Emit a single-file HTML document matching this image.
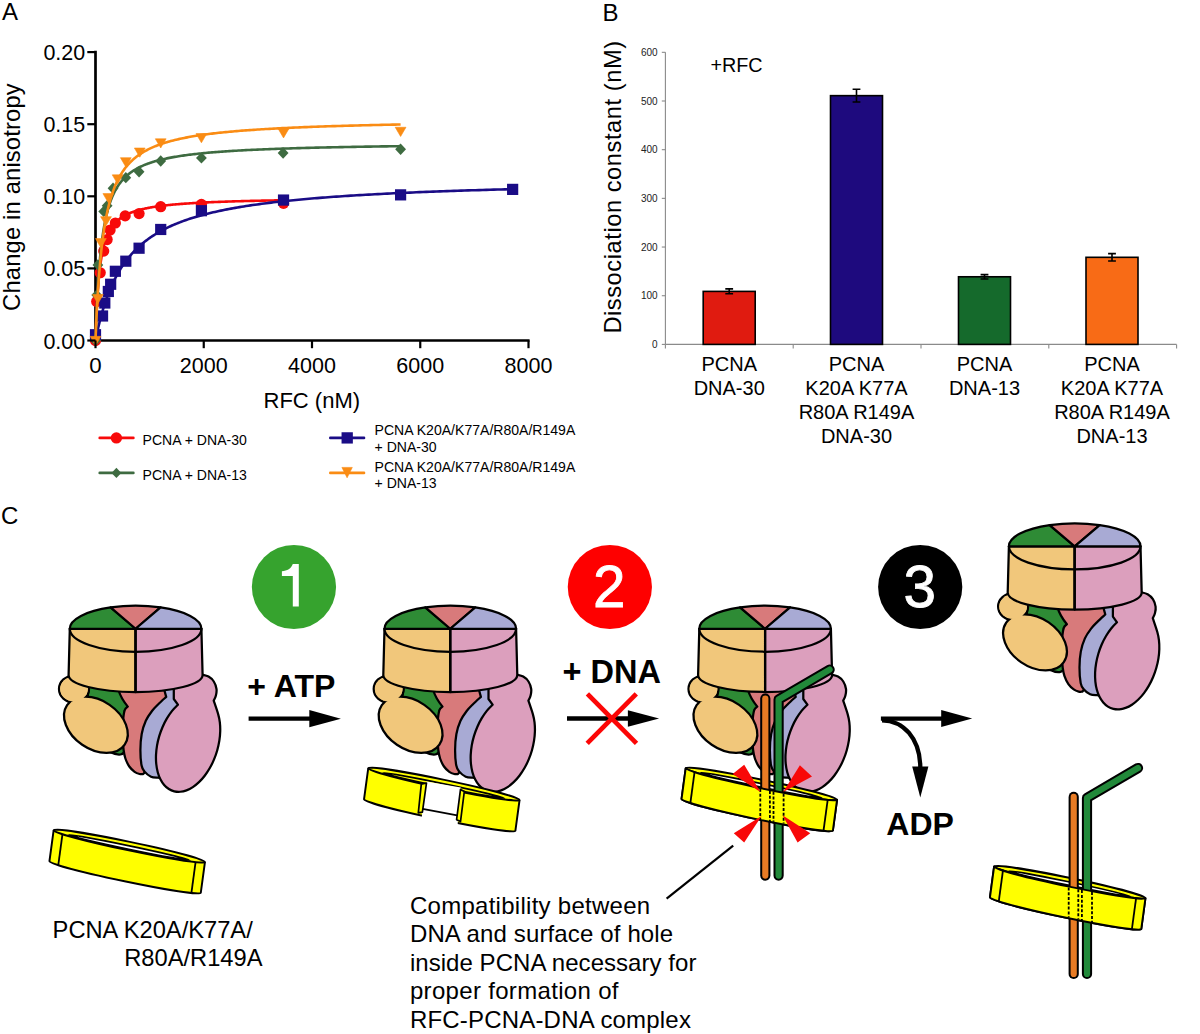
<!DOCTYPE html>
<html><head><meta charset="utf-8"><title>Figure</title>
<style>
html,body{margin:0;padding:0;background:#fff;overflow:hidden;}
svg{display:block;}
text{font-family:"Liberation Sans",sans-serif;}
</style></head>
<body>
<svg width="1200" height="1034" viewBox="0 0 1200 1034">
<defs>
<g id="rfc" stroke="#000" stroke-width="2.25" stroke-linejoin="round">
<path fill="#2e8b35" d="M89,686 L121,686 L128,706.5 L124.8,710.5 L125,749.5 C124.6,752.2 123.2,754 120.5,754.5 C117.5,754.9 114,754 110,752 L87.6,697 Z"/>
<ellipse fill="#f1c77b" cx="74" cy="689" rx="15" ry="13.5"/>
<path fill="#d87a7b" d="M118.5,690 L168,690 L168,700 L150,760 L146,771 L143.2,774.1 C142.60,774.08 141.03,774.38 139.60,774.00 C138.17,773.62 136.32,773.05 134.60,771.80 C132.88,770.55 130.83,768.72 129.30,766.50 C127.77,764.28 126.35,761.25 125.40,758.50 C124.45,755.75 124.03,753.42 123.60,750.00 C123.17,746.58 122.90,742.67 122.80,738.00 C122.70,733.33 122.70,726.58 123.00,722.00 C123.30,717.42 123.80,713.07 124.60,710.50 C125.40,707.93 127.27,707.25 127.80,706.60 C124,702 120.5,697 118.5,690 Z"/>
<path fill="#a8aad4" d="M164.3,688 L178,688 L182,705 L176,745 L166,779 L158,777.6 C156.83,777.45 153.23,777.70 151.00,776.70 C148.77,775.70 146.17,773.47 144.60,771.60 C143.03,769.73 142.30,769.10 141.60,765.50 C140.90,761.90 140.38,755.25 140.40,750.00 C140.42,744.75 140.80,738.87 141.70,734.00 C142.60,729.13 144.08,724.63 145.80,720.80 C147.52,716.97 149.88,713.80 152.00,711.00 C154.12,708.20 156.13,706.35 158.50,704.00 C160.87,701.65 164.92,698.08 166.20,696.90 L164.3,690 Z"/>
<path fill="#dc9fbd" stroke="none" d="M173.8,670 L173.8,699 L177.9,704.7 C176.91,705.66 173.91,708.58 172.09,710.88 C170.26,713.19 168.51,715.75 166.93,718.44 C165.34,721.12 163.87,724.02 162.59,726.97 C161.31,729.92 160.17,733.05 159.24,736.16 C158.31,739.27 157.56,742.49 157.02,745.64 C156.48,748.79 156.14,751.98 156.01,755.05 C155.89,758.11 155.97,761.15 156.26,764.01 C156.54,766.87 157.05,769.64 157.74,772.18 C158.43,774.72 159.34,777.12 160.40,779.24 C161.47,781.37 162.74,783.30 164.15,784.92 C165.55,786.55 167.14,787.93 168.83,788.99 C170.51,790.06 172.36,790.84 174.26,791.30 C176.16,791.76 178.19,791.91 180.23,791.75 C182.27,791.59 184.40,791.10 186.50,790.33 C188.60,789.55 190.76,788.45 192.84,787.09 C194.92,785.73 197.01,784.05 198.99,782.16 C200.97,780.27 202.92,778.08 204.72,775.73 C206.52,773.38 208.25,770.77 209.80,768.05 C211.36,765.34 212.80,762.41 214.04,759.43 C215.28,756.45 216.38,753.31 217.26,750.19 C218.15,747.07 218.86,743.84 219.35,740.70 C219.84,737.55 220.14,734.37 220.22,731.32 C220.30,728.28 220.17,725.26 219.84,722.43 C219.51,719.61 219.25,718.01 218.22,714.37 C217.20,710.73 214.45,702.89 213.70,700.60 C214.07,699.75 215.43,697.43 215.90,695.50 C216.37,693.57 216.85,691.33 216.50,689.00 C216.15,686.67 215.13,683.57 213.80,681.50 C212.47,679.43 210.50,677.75 208.50,676.60 C206.50,675.45 202.92,674.93 201.80,674.60 L190,668 Z"/>
<path fill="none" d="M173.8,688 L173.8,699 L177.9,704.7 C176.91,705.66 173.91,708.58 172.09,710.88 C170.26,713.19 168.51,715.75 166.93,718.44 C165.34,721.12 163.87,724.02 162.59,726.97 C161.31,729.92 160.17,733.05 159.24,736.16 C158.31,739.27 157.56,742.49 157.02,745.64 C156.48,748.79 156.14,751.98 156.01,755.05 C155.89,758.11 155.97,761.15 156.26,764.01 C156.54,766.87 157.05,769.64 157.74,772.18 C158.43,774.72 159.34,777.12 160.40,779.24 C161.47,781.37 162.74,783.30 164.15,784.92 C165.55,786.55 167.14,787.93 168.83,788.99 C170.51,790.06 172.36,790.84 174.26,791.30 C176.16,791.76 178.19,791.91 180.23,791.75 C182.27,791.59 184.40,791.10 186.50,790.33 C188.60,789.55 190.76,788.45 192.84,787.09 C194.92,785.73 197.01,784.05 198.99,782.16 C200.97,780.27 202.92,778.08 204.72,775.73 C206.52,773.38 208.25,770.77 209.80,768.05 C211.36,765.34 212.80,762.41 214.04,759.43 C215.28,756.45 216.38,753.31 217.26,750.19 C218.15,747.07 218.86,743.84 219.35,740.70 C219.84,737.55 220.14,734.37 220.22,731.32 C220.30,728.28 220.17,725.26 219.84,722.43 C219.51,719.61 219.25,718.01 218.22,714.37 C217.20,710.73 214.45,702.89 213.70,700.60 C214.07,699.75 215.43,697.43 215.90,695.50 C216.37,693.57 216.85,691.33 216.50,689.00 C216.15,686.67 215.13,683.57 213.80,681.50 C212.47,679.43 210.50,677.75 208.50,676.60 C206.50,675.45 202.92,674.93 201.80,674.60"/>
<ellipse fill="#f1c77b" cx="95.9" cy="724.8" rx="34.9" ry="24.2" transform="rotate(34.4 95.9 724.8)"/>
<ellipse fill="#f1c77b" stroke="none" cx="74" cy="689" rx="13.8" ry="12.3"/>
<path fill="#f1c77b" d="M135.6,628.75 L69.8,628.75 L68.6,675 A67,17 0 0 0 135.6,692 Z"/>
<path fill="#dc9fbd" d="M135.6,628.75 L201.39999999999998,628.75 L202.6,675 A67,17 0 0 1 135.6,692 Z"/>
<path fill="#f1c77b" d="M135.6,628.75 L69.8,628.75 A65.8,23 0 0 0 135.6,651.75 Z"/>
<path fill="#dc9fbd" d="M135.6,628.75 L201.39999999999998,628.75 A65.8,23 0 0 1 135.6,651.75 Z"/>
<path fill="#2e8b35" d="M135.6,628.75 L69.8,628.75 A65.8,23 0 0 1 110.60,607.47 Z"/>
<path fill="#d87a7b" d="M135.6,628.75 L110.60,607.47 A65.8,23 0 0 1 160.60,607.47 Z"/>
<path fill="#a8aad4" d="M135.6,628.75 L160.60,607.47 A65.8,23 0 0 1 201.39999999999998,628.75 Z"/>
<path fill="none" d="M135.6,628.75 V692"/>
</g>
</defs>
<rect width="1200" height="1034" fill="#fff"/>
<g id="panelA">
<line x1="95.5" y1="50.8" x2="95.5" y2="341.8" stroke="#000" stroke-width="2.7"/>
<line x1="94.2" y1="340.5" x2="529.6" y2="340.5" stroke="#000" stroke-width="2.7"/>
<path d="M95.50,340.50 L95.50,340.46 L95.51,340.33 L95.51,340.10 L95.52,339.74 L95.54,339.26 L95.56,338.66 L95.58,337.93 L95.61,337.08 L95.64,336.10 L95.67,334.99 L95.71,333.77 L95.76,332.43 L95.81,330.97 L95.86,329.42 L95.92,327.76 L95.99,326.02 L96.06,324.18 L96.13,322.28 L96.21,320.30 L96.29,318.26 L96.38,316.17 L96.48,314.03 L96.58,311.85 L96.69,309.64 L96.80,307.41 L96.91,305.16 L97.04,302.91 L97.17,300.64 L97.30,298.39 L97.44,296.13 L97.58,293.89 L97.73,291.67 L97.89,289.46 L98.05,287.28 L98.22,285.13 L98.39,283.01 L98.57,280.92 L98.76,278.87 L98.95,276.85 L99.15,274.87 L99.35,272.94 L99.56,271.04 L99.78,269.18 L100.00,267.37 L100.23,265.60 L100.46,263.87 L100.70,262.18 L100.95,260.54 L101.20,258.94 L101.46,257.38 L101.73,255.86 L102.00,254.38 L102.28,252.95 L102.56,251.55 L102.85,250.19 L103.15,248.87 L103.46,247.59 L103.77,246.34 L104.08,245.13 L104.41,243.96 L104.74,242.82 L105.07,241.71 L105.42,240.63 L105.76,239.59 L106.12,238.57 L106.48,237.59 L106.85,236.63 L107.23,235.71 L107.61,234.81 L108.00,233.93 L108.40,233.08 L108.80,232.26 L109.21,231.46 L109.63,230.68 L110.05,229.92 L110.48,229.19 L110.92,228.48 L111.36,227.79 L111.81,227.12 L112.27,226.46 L112.74,225.83 L113.21,225.21 L113.69,224.61 L114.17,224.03 L114.66,223.46 L115.16,222.91 L115.67,222.38 L116.18,221.86 L116.70,221.35 L117.23,220.86 L117.77,220.38 L118.31,219.91 L118.86,219.46 L119.41,219.02 L119.98,218.59 L120.55,218.17 L121.12,217.76 L121.71,217.36 L122.30,216.98 L122.90,216.60 L123.51,216.23 L124.12,215.88 L124.74,215.53 L125.37,215.19 L126.01,214.86 L126.65,214.53 L127.30,214.22 L127.96,213.91 L128.62,213.61 L129.29,213.32 L129.97,213.03 L130.66,212.75 L131.35,212.48 L132.06,212.22 L132.76,211.96 L133.48,211.70 L134.21,211.46 L134.94,211.22 L135.68,210.98 L136.42,210.75 L137.18,210.52 L137.94,210.30 L138.71,210.09 L139.48,209.88 L140.27,209.67 L141.06,209.47 L141.86,209.28 L142.67,209.09 L143.48,208.90 L144.30,208.71 L145.13,208.53 L145.97,208.36 L146.81,208.19 L147.67,208.02 L148.53,207.85 L149.40,207.69 L150.27,207.53 L151.15,207.38 L152.05,207.23 L152.94,207.08 L153.85,206.93 L154.76,206.79 L155.69,206.65 L156.62,206.51 L157.55,206.38 L158.50,206.25 L159.45,206.12 L160.41,205.99 L161.38,205.87 L162.36,205.75 L163.34,205.63 L164.34,205.51 L165.34,205.40 L166.34,205.29 L167.36,205.18 L168.38,205.07 L169.42,204.96 L170.46,204.86 L171.50,204.75 L172.56,204.65 L173.62,204.56 L174.69,204.46 L175.77,204.36 L176.86,204.27 L177.96,204.18 L179.06,204.09 L180.17,204.00 L181.29,203.91 L182.42,203.83 L183.55,203.75 L184.70,203.66 L185.85,203.58 L187.01,203.50 L188.18,203.43 L189.35,203.35 L190.54,203.27 L191.73,203.20 L192.93,203.13 L194.14,203.05 L195.35,202.98 L196.58,202.91 L197.81,202.85 L199.05,202.78 L200.30,202.71 L201.56,202.65 L202.82,202.59 L204.10,202.52 L205.38,202.46 L206.67,202.40 L207.97,202.34 L209.27,202.28 L210.59,202.22 L211.91,202.17 L213.24,202.11 L214.58,202.06 L215.93,202.00 L217.28,201.95 L218.65,201.89 L220.02,201.84 L221.40,201.79 L222.79,201.74 L224.19,201.69 L225.59,201.64 L227.01,201.59 L228.43,201.55 L229.86,201.50 L231.30,201.45 L232.75,201.41 L234.20,201.36 L235.67,201.32 L237.14,201.28 L238.62,201.23 L240.11,201.19 L241.61,201.15 L243.11,201.11 L244.63,201.07 L246.15,201.03 L247.68,200.99 L249.22,200.95 L250.77,200.91 L252.33,200.88 L253.89,200.84 L255.47,200.80 L257.05,200.77 L258.64,200.73 L260.24,200.70 L261.85,200.66 L263.47,200.63 L265.09,200.59 L266.72,200.56 L268.37,200.53 L270.02,200.49 L271.68,200.46 L273.34,200.43 L275.02,200.40 L276.70,200.37 L278.40,200.34 L280.10,200.31 L281.81,200.28 L283.53,200.25" fill="none" stroke="#f80a0a" stroke-width="2.6" stroke-linejoin="round"/>
<circle cx="95.50" cy="340.50" r="5.6" fill="#f80a0a"/>
<circle cx="96.69" cy="301.57" r="5.6" fill="#f80a0a"/>
<circle cx="100.21" cy="272.73" r="5.6" fill="#f80a0a"/>
<circle cx="103.73" cy="251.10" r="5.6" fill="#f80a0a"/>
<circle cx="107.14" cy="239.56" r="5.6" fill="#f80a0a"/>
<circle cx="110.11" cy="230.04" r="5.6" fill="#f80a0a"/>
<circle cx="115.36" cy="222.98" r="5.6" fill="#f80a0a"/>
<circle cx="125.16" cy="215.91" r="5.6" fill="#f80a0a"/>
<circle cx="139.07" cy="213.60" r="5.6" fill="#f80a0a"/>
<circle cx="160.72" cy="206.68" r="5.6" fill="#f80a0a"/>
<circle cx="201.42" cy="204.38" r="5.6" fill="#f80a0a"/>
<circle cx="283.53" cy="203.37" r="5.6" fill="#f80a0a"/>
<path d="M95.50,340.50 L95.50,340.49 L95.51,340.44 L95.53,340.36 L95.55,340.24 L95.58,340.08 L95.62,339.87 L95.67,339.61 L95.73,339.31 L95.80,338.96 L95.88,338.57 L95.97,338.12 L96.07,337.63 L96.18,337.09 L96.30,336.50 L96.44,335.86 L96.58,335.18 L96.73,334.44 L96.90,333.67 L97.07,332.84 L97.26,331.98 L97.46,331.07 L97.67,330.12 L97.90,329.12 L98.13,328.09 L98.38,327.02 L98.64,325.92 L98.91,324.78 L99.19,323.60 L99.49,322.40 L99.80,321.16 L100.12,319.90 L100.46,318.61 L100.80,317.29 L101.16,315.96 L101.54,314.60 L101.92,313.22 L102.32,311.82 L102.73,310.41 L103.16,308.98 L103.60,307.54 L104.05,306.09 L104.52,304.63 L104.99,303.16 L105.49,301.68 L105.99,300.20 L106.51,298.72 L107.05,297.23 L107.59,295.74 L108.15,294.25 L108.73,292.77 L109.32,291.28 L109.92,289.80 L110.54,288.33 L111.17,286.86 L111.82,285.40 L112.48,283.94 L113.15,282.50 L113.84,281.06 L114.54,279.63 L115.26,278.22 L115.99,276.81 L116.74,275.42 L117.50,274.04 L118.27,272.67 L119.06,271.32 L119.87,269.98 L120.69,268.65 L121.52,267.34 L122.37,266.04 L123.24,264.76 L124.11,263.49 L125.01,262.24 L125.92,261.01 L126.84,259.79 L127.78,258.59 L128.74,257.40 L129.71,256.23 L130.69,255.07 L131.69,253.94 L132.71,252.81 L133.74,251.71 L134.78,250.62 L135.85,249.55 L136.92,248.49 L138.01,247.45 L139.12,246.42 L140.25,245.41 L141.39,244.42 L142.54,243.44 L143.71,242.48 L144.90,241.53 L146.10,240.60 L147.32,239.68 L148.55,238.78 L149.80,237.89 L151.07,237.02 L152.35,236.16 L153.65,235.32 L154.96,234.49 L156.29,233.67 L157.63,232.87 L158.99,232.08 L160.37,231.31 L161.77,230.54 L163.18,229.79 L164.60,229.06 L166.04,228.33 L167.50,227.62 L168.98,226.92 L170.47,226.23 L171.98,225.55 L173.50,224.89 L175.04,224.23 L176.60,223.59 L178.17,222.96 L179.76,222.34 L181.37,221.73 L182.99,221.13 L184.63,220.54 L186.29,219.96 L187.96,219.39 L189.65,218.82 L191.35,218.27 L193.08,217.73 L194.82,217.20 L196.57,216.68 L198.35,216.16 L200.14,215.66 L201.94,215.16 L203.77,214.67 L205.61,214.19 L207.46,213.71 L209.34,213.25 L211.23,212.79 L213.14,212.34 L215.07,211.90 L217.01,211.47 L218.97,211.04 L220.94,210.62 L222.94,210.20 L224.95,209.80 L226.98,209.40 L229.02,209.00 L231.09,208.62 L233.17,208.23 L235.26,207.86 L237.38,207.49 L239.51,207.13 L241.66,206.77 L243.83,206.42 L246.01,206.07 L248.21,205.73 L250.43,205.40 L252.67,205.07 L254.92,204.75 L257.19,204.43 L259.48,204.11 L261.79,203.80 L264.11,203.50 L266.46,203.20 L268.81,202.91 L271.19,202.62 L273.59,202.33 L276.00,202.05 L278.43,201.77 L280.88,201.50 L283.34,201.23 L285.83,200.97 L288.33,200.71 L290.85,200.45 L293.38,200.20 L295.94,199.95 L298.51,199.70 L301.10,199.46 L303.71,199.22 L306.34,198.99 L308.98,198.76 L311.64,198.53 L314.32,198.31 L317.02,198.08 L319.74,197.87 L322.47,197.65 L325.23,197.44 L328.00,197.23 L330.79,197.03 L333.59,196.82 L336.42,196.62 L339.26,196.43 L342.12,196.23 L345.00,196.04 L347.90,195.85 L350.82,195.67 L353.75,195.49 L356.71,195.30 L359.68,195.13 L362.67,194.95 L365.67,194.78 L368.70,194.61 L371.75,194.44 L374.81,194.27 L377.89,194.11 L380.99,193.95 L384.11,193.79 L387.25,193.63 L390.40,193.47 L393.58,193.32 L396.77,193.17 L399.98,193.02 L403.21,192.87 L406.46,192.73 L409.72,192.59 L413.01,192.44 L416.31,192.31 L419.64,192.17 L422.98,192.03 L426.34,191.90 L429.72,191.77 L433.12,191.63 L436.53,191.51 L439.97,191.38 L443.42,191.25 L446.89,191.13 L450.39,191.01 L453.90,190.88 L457.43,190.77 L460.97,190.65 L464.54,190.53 L468.13,190.42 L471.73,190.30 L475.36,190.19 L479.00,190.08 L482.66,189.97 L486.34,189.86 L490.04,189.76 L493.76,189.65 L497.50,189.55 L501.26,189.44 L505.03,189.34 L508.83,189.24 L512.64,189.14" fill="none" stroke="#1a0c86" stroke-width="2.6" stroke-linejoin="round"/>
<rect x="89.90" y="329.13" width="11.2" height="11.2" fill="#1a0c86"/>
<rect x="96.94" y="310.39" width="11.2" height="11.2" fill="#1a0c86"/>
<rect x="99.21" y="297.41" width="11.2" height="11.2" fill="#1a0c86"/>
<rect x="102.73" y="285.87" width="11.2" height="11.2" fill="#1a0c86"/>
<rect x="105.06" y="278.66" width="11.2" height="11.2" fill="#1a0c86"/>
<rect x="109.76" y="265.68" width="11.2" height="11.2" fill="#1a0c86"/>
<rect x="120.21" y="255.59" width="11.2" height="11.2" fill="#1a0c86"/>
<rect x="133.47" y="242.61" width="11.2" height="11.2" fill="#1a0c86"/>
<rect x="155.12" y="223.87" width="11.2" height="11.2" fill="#1a0c86"/>
<rect x="195.82" y="205.12" width="11.2" height="11.2" fill="#1a0c86"/>
<rect x="277.93" y="194.45" width="11.2" height="11.2" fill="#1a0c86"/>
<rect x="395.00" y="189.26" width="11.2" height="11.2" fill="#1a0c86"/>
<rect x="507.04" y="183.78" width="11.2" height="11.2" fill="#1a0c86"/>
<path d="M95.50,340.50 L95.50,340.45 L95.51,340.25 L95.52,339.89 L95.54,339.35 L95.56,338.62 L95.59,337.71 L95.63,336.60 L95.67,335.31 L95.72,333.82 L95.78,332.15 L95.85,330.30 L95.92,328.29 L96.00,326.10 L96.09,323.77 L96.18,321.29 L96.29,318.68 L96.40,315.96 L96.52,313.12 L96.65,310.19 L96.79,307.18 L96.94,304.10 L97.09,300.96 L97.25,297.77 L97.43,294.54 L97.61,291.30 L97.80,288.04 L97.99,284.77 L98.20,281.51 L98.42,278.26 L98.65,275.03 L98.88,271.83 L99.13,268.66 L99.38,265.53 L99.64,262.44 L99.92,259.40 L100.20,256.41 L100.49,253.48 L100.79,250.60 L101.10,247.79 L101.42,245.03 L101.75,242.34 L102.09,239.71 L102.44,237.14 L102.80,234.64 L103.17,232.20 L103.55,229.83 L103.94,227.52 L104.35,225.28 L104.76,223.09 L105.18,220.97 L105.61,218.91 L106.05,216.91 L106.50,214.97 L106.96,213.08 L107.43,211.25 L107.92,209.48 L108.41,207.75 L108.91,206.08 L109.43,204.47 L109.95,202.89 L110.49,201.37 L111.03,199.90 L111.59,198.46 L112.16,197.08 L112.73,195.73 L113.32,194.43 L113.92,193.16 L114.53,191.93 L115.15,190.75 L115.79,189.59 L116.43,188.47 L117.08,187.39 L117.75,186.34 L118.42,185.32 L119.11,184.33 L119.81,183.36 L120.52,182.43 L121.24,181.53 L121.97,180.65 L122.71,179.80 L123.47,178.97 L124.23,178.17 L125.01,177.38 L125.80,176.63 L126.60,175.89 L127.41,175.17 L128.23,174.48 L129.06,173.80 L129.91,173.15 L130.76,172.51 L131.63,171.89 L132.51,171.28 L133.40,170.70 L134.30,170.12 L135.22,169.57 L136.14,169.03 L137.08,168.50 L138.03,167.99 L138.99,167.49 L139.96,167.00 L140.95,166.53 L141.94,166.07 L142.95,165.62 L143.97,165.18 L145.00,164.76 L146.04,164.34 L147.10,163.94 L148.16,163.54 L149.24,163.16 L150.33,162.78 L151.44,162.41 L152.55,162.06 L153.68,161.71 L154.82,161.37 L155.97,161.04 L157.13,160.71 L158.30,160.40 L159.49,160.09 L160.69,159.79 L161.90,159.49 L163.13,159.20 L164.36,158.92 L165.61,158.65 L166.87,158.38 L168.14,158.12 L169.43,157.86 L170.72,157.61 L172.03,157.36 L173.35,157.12 L174.69,156.89 L176.03,156.66 L177.39,156.44 L178.76,156.22 L180.15,156.00 L181.54,155.79 L182.95,155.59 L184.37,155.38 L185.81,155.19 L187.25,154.99 L188.71,154.80 L190.18,154.62 L191.66,154.44 L193.16,154.26 L194.67,154.09 L196.19,153.92 L197.73,153.75 L199.27,153.58 L200.83,153.42 L202.40,153.27 L203.99,153.11 L205.59,152.96 L207.20,152.81 L208.82,152.67 L210.45,152.52 L212.10,152.38 L213.76,152.25 L215.44,152.11 L217.13,151.98 L218.83,151.85 L220.54,151.72 L222.26,151.60 L224.00,151.48 L225.75,151.36 L227.52,151.24 L229.30,151.12 L231.09,151.01 L232.89,150.89 L234.71,150.78 L236.54,150.68 L238.38,150.57 L240.23,150.47 L242.10,150.36 L243.99,150.26 L245.88,150.16 L247.79,150.07 L249.71,149.97 L251.64,149.88 L253.59,149.79 L255.55,149.69 L257.52,149.61 L259.51,149.52 L261.51,149.43 L263.52,149.35 L265.55,149.26 L267.59,149.18 L269.64,149.10 L271.71,149.02 L273.79,148.94 L275.88,148.87 L277.99,148.79 L280.11,148.72 L282.24,148.64 L284.39,148.57 L286.55,148.50 L288.72,148.43 L290.91,148.36 L293.11,148.29 L295.32,148.23 L297.55,148.16 L299.79,148.10 L302.04,148.03 L304.31,147.97 L306.59,147.91 L308.89,147.85 L311.19,147.79 L313.52,147.73 L315.85,147.67 L318.20,147.61 L320.56,147.56 L322.94,147.50 L325.33,147.45 L327.73,147.39 L330.15,147.34 L332.58,147.29 L335.02,147.23 L337.48,147.18 L339.95,147.13 L342.44,147.08 L344.94,147.03 L347.45,146.99 L349.97,146.94 L352.51,146.89 L355.07,146.85 L357.64,146.80 L360.22,146.76 L362.81,146.71 L365.42,146.67 L368.04,146.62 L370.68,146.58 L373.33,146.54 L376.00,146.50 L378.67,146.46 L381.37,146.42 L384.07,146.38 L386.79,146.34 L389.53,146.30 L392.28,146.26 L395.04,146.22 L397.81,146.19 L400.60,146.15" fill="none" stroke="#3e6b41" stroke-width="2.6" stroke-linejoin="round"/>
<polygon points="95.50,334.83 100.90,340.50 95.50,346.17 90.10,340.50" fill="#3e6b41"/>
<polygon points="96.69,289.41 102.09,295.08 96.69,300.75 91.29,295.08" fill="#3e6b41"/>
<polygon points="97.88,259.27 103.28,264.94 97.88,270.61 92.48,264.94" fill="#3e6b41"/>
<polygon points="103.73,205.77 109.13,211.44 103.73,217.11 98.33,211.44" fill="#3e6b41"/>
<polygon points="107.14,200.00 112.54,205.67 107.14,211.34 101.74,205.67" fill="#3e6b41"/>
<polygon points="113.04,182.55 118.44,188.22 113.04,193.89 107.64,188.22" fill="#3e6b41"/>
<polygon points="125.81,172.03 131.21,177.70 125.81,183.37 120.41,177.70" fill="#3e6b41"/>
<polygon points="139.07,166.12 144.47,171.79 139.07,177.46 133.67,171.79" fill="#3e6b41"/>
<polygon points="160.72,155.30 166.12,160.97 160.72,166.64 155.32,160.97" fill="#3e6b41"/>
<polygon points="201.42,152.27 206.82,157.94 201.42,163.61 196.02,157.94" fill="#3e6b41"/>
<polygon points="283.10,147.37 288.50,153.04 283.10,158.71 277.70,153.04" fill="#3e6b41"/>
<polygon points="400.60,143.62 406.00,149.29 400.60,154.96 395.20,149.29" fill="#3e6b41"/>
<path d="M95.50,340.50 L95.50,340.45 L95.51,340.29 L95.52,339.99 L95.54,339.53 L95.56,338.93 L95.59,338.16 L95.63,337.23 L95.67,336.13 L95.72,334.87 L95.78,333.45 L95.85,331.87 L95.92,330.13 L96.00,328.24 L96.09,326.21 L96.18,324.04 L96.29,321.74 L96.40,319.32 L96.52,316.79 L96.65,314.15 L96.79,311.41 L96.94,308.59 L97.09,305.69 L97.25,302.72 L97.43,299.70 L97.61,296.62 L97.80,293.50 L97.99,290.35 L98.20,287.18 L98.42,283.99 L98.65,280.79 L98.88,277.59 L99.13,274.39 L99.38,271.20 L99.64,268.04 L99.92,264.89 L100.20,261.77 L100.49,258.68 L100.79,255.62 L101.10,252.61 L101.42,249.63 L101.75,246.70 L102.09,243.82 L102.44,240.99 L102.80,238.20 L103.17,235.47 L103.55,232.79 L103.94,230.16 L104.35,227.59 L104.76,225.08 L105.18,222.62 L105.61,220.21 L106.05,217.86 L106.50,215.56 L106.96,213.32 L107.43,211.13 L107.92,209.00 L108.41,206.92 L108.91,204.89 L109.43,202.92 L109.95,200.99 L110.49,199.11 L111.03,197.28 L111.59,195.50 L112.16,193.77 L112.73,192.08 L113.32,190.44 L113.92,188.84 L114.53,187.28 L115.15,185.76 L115.79,184.29 L116.43,182.85 L117.08,181.45 L117.75,180.09 L118.42,178.77 L119.11,177.48 L119.81,176.22 L120.52,175.00 L121.24,173.81 L121.97,172.66 L122.71,171.53 L123.47,170.43 L124.23,169.37 L125.01,168.33 L125.80,167.32 L126.60,166.33 L127.41,165.37 L128.23,164.44 L129.06,163.53 L129.91,162.64 L130.76,161.78 L131.63,160.93 L132.51,160.11 L133.40,159.31 L134.30,158.54 L135.22,157.78 L136.14,157.04 L137.08,156.31 L138.03,155.61 L138.99,154.92 L139.96,154.25 L140.95,153.60 L141.94,152.97 L142.95,152.34 L143.97,151.74 L145.00,151.15 L146.04,150.57 L147.10,150.00 L148.16,149.45 L149.24,148.92 L150.33,148.39 L151.44,147.88 L152.55,147.38 L153.68,146.89 L154.82,146.41 L155.97,145.95 L157.13,145.49 L158.30,145.05 L159.49,144.61 L160.69,144.18 L161.90,143.77 L163.13,143.36 L164.36,142.96 L165.61,142.57 L166.87,142.19 L168.14,141.82 L169.43,141.46 L170.72,141.10 L172.03,140.75 L173.35,140.41 L174.69,140.08 L176.03,139.75 L177.39,139.43 L178.76,139.12 L180.15,138.81 L181.54,138.51 L182.95,138.21 L184.37,137.92 L185.81,137.64 L187.25,137.37 L188.71,137.09 L190.18,136.83 L191.66,136.57 L193.16,136.31 L194.67,136.06 L196.19,135.82 L197.73,135.58 L199.27,135.34 L200.83,135.11 L202.40,134.88 L203.99,134.66 L205.59,134.44 L207.20,134.22 L208.82,134.01 L210.45,133.81 L212.10,133.61 L213.76,133.41 L215.44,133.21 L217.13,133.02 L218.83,132.83 L220.54,132.65 L222.26,132.47 L224.00,132.29 L225.75,132.11 L227.52,131.94 L229.30,131.77 L231.09,131.61 L232.89,131.44 L234.71,131.28 L236.54,131.13 L238.38,130.97 L240.23,130.82 L242.10,130.67 L243.99,130.53 L245.88,130.38 L247.79,130.24 L249.71,130.10 L251.64,129.96 L253.59,129.83 L255.55,129.70 L257.52,129.57 L259.51,129.44 L261.51,129.31 L263.52,129.19 L265.55,129.06 L267.59,128.94 L269.64,128.83 L271.71,128.71 L273.79,128.60 L275.88,128.48 L277.99,128.37 L280.11,128.26 L282.24,128.16 L284.39,128.05 L286.55,127.95 L288.72,127.84 L290.91,127.74 L293.11,127.64 L295.32,127.55 L297.55,127.45 L299.79,127.35 L302.04,127.26 L304.31,127.17 L306.59,127.08 L308.89,126.99 L311.19,126.90 L313.52,126.81 L315.85,126.73 L318.20,126.64 L320.56,126.56 L322.94,126.48 L325.33,126.40 L327.73,126.32 L330.15,126.24 L332.58,126.16 L335.02,126.09 L337.48,126.01 L339.95,125.94 L342.44,125.87 L344.94,125.79 L347.45,125.72 L349.97,125.65 L352.51,125.58 L355.07,125.51 L357.64,125.45 L360.22,125.38 L362.81,125.32 L365.42,125.25 L368.04,125.19 L370.68,125.13 L373.33,125.06 L376.00,125.00 L378.67,124.94 L381.37,124.88 L384.07,124.82 L386.79,124.77 L389.53,124.71 L392.28,124.65 L395.04,124.60 L397.81,124.54 L400.60,124.49" fill="none" stroke="#fa8c14" stroke-width="2.6" stroke-linejoin="round"/>
<polygon points="90.10,336.36 100.90,336.36 95.50,345.56" fill="#fa8c14" stroke="#fa8c14" stroke-width="0.6" stroke-linejoin="round"/>
<polygon points="92.48,294.54 103.28,294.54 97.88,303.74" fill="#fa8c14" stroke="#fa8c14" stroke-width="0.6" stroke-linejoin="round"/>
<polygon points="95.51,238.59 106.31,238.59 100.91,247.79" fill="#fa8c14" stroke="#fa8c14" stroke-width="0.6" stroke-linejoin="round"/>
<polygon points="100.60,216.67 111.40,216.67 106.00,225.87" fill="#fa8c14" stroke="#fa8c14" stroke-width="0.6" stroke-linejoin="round"/>
<polygon points="102.93,193.60 113.73,193.60 108.33,202.80" fill="#fa8c14" stroke="#fa8c14" stroke-width="0.6" stroke-linejoin="round"/>
<polygon points="112.24,174.86 123.04,174.86 117.64,184.06" fill="#fa8c14" stroke="#fa8c14" stroke-width="0.6" stroke-linejoin="round"/>
<polygon points="120.41,157.70 131.21,157.70 125.81,166.90" fill="#fa8c14" stroke="#fa8c14" stroke-width="0.6" stroke-linejoin="round"/>
<polygon points="134.37,148.03 145.17,148.03 139.77,157.23" fill="#fa8c14" stroke="#fa8c14" stroke-width="0.6" stroke-linejoin="round"/>
<polygon points="155.32,138.81 166.12,138.81 160.72,148.01" fill="#fa8c14" stroke="#fa8c14" stroke-width="0.6" stroke-linejoin="round"/>
<polygon points="196.02,133.61 206.82,133.61 201.42,142.81" fill="#fa8c14" stroke="#fa8c14" stroke-width="0.6" stroke-linejoin="round"/>
<polygon points="278.13,128.71 288.93,128.71 283.53,137.91" fill="#fa8c14" stroke="#fa8c14" stroke-width="0.6" stroke-linejoin="round"/>
<polygon points="395.20,127.27 406.00,127.27 400.60,136.47" fill="#fa8c14" stroke="#fa8c14" stroke-width="0.6" stroke-linejoin="round"/>
<line x1="87.3" y1="340.50" x2="95.5" y2="340.50" stroke="#000" stroke-width="2.2"/>
<text x="85.2" y="348.50" text-anchor="end" font-size="22.3" textLength="41.8" lengthAdjust="spacingAndGlyphs">0.00</text>
<line x1="87.3" y1="268.40" x2="95.5" y2="268.40" stroke="#000" stroke-width="2.2"/>
<text x="85.2" y="276.40" text-anchor="end" font-size="22.3" textLength="41.8" lengthAdjust="spacingAndGlyphs">0.05</text>
<line x1="87.3" y1="196.30" x2="95.5" y2="196.30" stroke="#000" stroke-width="2.2"/>
<text x="85.2" y="204.30" text-anchor="end" font-size="22.3" textLength="41.8" lengthAdjust="spacingAndGlyphs">0.10</text>
<line x1="87.3" y1="124.20" x2="95.5" y2="124.20" stroke="#000" stroke-width="2.2"/>
<text x="85.2" y="132.20" text-anchor="end" font-size="22.3" textLength="41.8" lengthAdjust="spacingAndGlyphs">0.15</text>
<line x1="87.3" y1="52.10" x2="95.5" y2="52.10" stroke="#000" stroke-width="2.2"/>
<text x="85.2" y="60.10" text-anchor="end" font-size="22.3" textLength="41.8" lengthAdjust="spacingAndGlyphs">0.20</text>
<line x1="95.50" y1="340.5" x2="95.50" y2="348.2" stroke="#000" stroke-width="2.2"/>
<text x="95.50" y="372.9" text-anchor="middle" font-size="22.3">0</text>
<line x1="203.75" y1="340.5" x2="203.75" y2="348.2" stroke="#000" stroke-width="2.2"/>
<text x="203.75" y="372.9" text-anchor="middle" font-size="22.3" textLength="47.8" lengthAdjust="spacingAndGlyphs">2000</text>
<line x1="312.00" y1="340.5" x2="312.00" y2="348.2" stroke="#000" stroke-width="2.2"/>
<text x="312.00" y="372.9" text-anchor="middle" font-size="22.3" textLength="47.8" lengthAdjust="spacingAndGlyphs">4000</text>
<line x1="420.25" y1="340.5" x2="420.25" y2="348.2" stroke="#000" stroke-width="2.2"/>
<text x="420.25" y="372.9" text-anchor="middle" font-size="22.3" textLength="47.8" lengthAdjust="spacingAndGlyphs">6000</text>
<line x1="528.50" y1="340.5" x2="528.50" y2="348.2" stroke="#000" stroke-width="2.2"/>
<text x="528.50" y="372.9" text-anchor="middle" font-size="22.3" textLength="47.8" lengthAdjust="spacingAndGlyphs">8000</text>
<text x="263.5" y="408" font-size="22">RFC (nM)</text>
<text transform="translate(20.4,197.1) rotate(-90)" text-anchor="middle" font-size="23.7" textLength="227.6" lengthAdjust="spacing">Change in anisotropy</text>
<text x="2" y="20.3" font-size="24">A</text>
<line x1="99.7" y1="437.9" x2="133.4" y2="437.9" stroke="#f80a0a" stroke-width="2.6" stroke-linecap="round"/>
<circle cx="116.40" cy="437.90" r="5.66" fill="#f80a0a"/>
<text x="142.6" y="444.9" font-size="14.05">PCNA + DNA-30</text>
<line x1="99.7" y1="472.9" x2="133.4" y2="472.9" stroke="#3e6b41" stroke-width="2.6" stroke-linecap="round"/>
<polygon points="116.40,467.75 121.30,472.90 116.40,478.04 111.50,472.90" fill="#3e6b41"/>
<text x="142.6" y="480.1" font-size="14.05">PCNA + DNA-13</text>
<line x1="330.3" y1="437.9" x2="364" y2="437.9" stroke="#1a0c86" stroke-width="2.6" stroke-linecap="round"/>
<rect x="341.55" y="432.25" width="11.3" height="11.3" fill="#1a0c86"/>
<text x="374.6" y="434.8" font-size="14.05">PCNA K20A/K77A/R80A/R149A</text>
<text x="374.6" y="451.9" font-size="14.05">+ DNA-30</text>
<line x1="330.3" y1="472.9" x2="364" y2="472.9" stroke="#fa8c14" stroke-width="2.6" stroke-linecap="round"/>
<polygon points="341.90,467.42 352.30,467.42 347.10,477.82" fill="#fa8c14" stroke="#fa8c14" stroke-width="0.6" stroke-linejoin="round"/>
<text x="374.6" y="471.7" font-size="14.05">PCNA K20A/K77A/R80A/R149A</text>
<text x="374.6" y="487.8" font-size="14.05">+ DNA-13</text>
</g>
<g id="panelB">
<text x="602.5" y="20.5" font-size="24">B</text>
<line x1="665.4" y1="52.3" x2="665.4" y2="344.4" stroke="#8a8a8a" stroke-width="1.1"/>
<line x1="661.8" y1="344.40" x2="665.4" y2="344.40" stroke="#8a8a8a" stroke-width="1.1"/>
<text x="657.6" y="348.00" text-anchor="end" font-size="10" fill="#222">0</text>
<line x1="661.8" y1="295.72" x2="665.4" y2="295.72" stroke="#8a8a8a" stroke-width="1.1"/>
<text x="657.6" y="299.32" text-anchor="end" font-size="10" fill="#222">100</text>
<line x1="661.8" y1="247.04" x2="665.4" y2="247.04" stroke="#8a8a8a" stroke-width="1.1"/>
<text x="657.6" y="250.64" text-anchor="end" font-size="10" fill="#222">200</text>
<line x1="661.8" y1="198.36" x2="665.4" y2="198.36" stroke="#8a8a8a" stroke-width="1.1"/>
<text x="657.6" y="201.96" text-anchor="end" font-size="10" fill="#222">300</text>
<line x1="661.8" y1="149.68" x2="665.4" y2="149.68" stroke="#8a8a8a" stroke-width="1.1"/>
<text x="657.6" y="153.28" text-anchor="end" font-size="10" fill="#222">400</text>
<line x1="661.8" y1="101.00" x2="665.4" y2="101.00" stroke="#8a8a8a" stroke-width="1.1"/>
<text x="657.6" y="104.60" text-anchor="end" font-size="10" fill="#222">500</text>
<line x1="661.8" y1="52.32" x2="665.4" y2="52.32" stroke="#8a8a8a" stroke-width="1.1"/>
<text x="657.6" y="55.92" text-anchor="end" font-size="10" fill="#222">600</text>
<line x1="665.4" y1="344.4" x2="1176.6" y2="344.4" stroke="#8a8a8a" stroke-width="1.1"/>
<line x1="665.40" y1="344.4" x2="665.40" y2="348.40" stroke="#8a8a8a" stroke-width="1.1"/>
<line x1="793.20" y1="344.4" x2="793.20" y2="348.40" stroke="#8a8a8a" stroke-width="1.1"/>
<line x1="921.00" y1="344.4" x2="921.00" y2="348.40" stroke="#8a8a8a" stroke-width="1.1"/>
<line x1="1048.80" y1="344.4" x2="1048.80" y2="348.40" stroke="#8a8a8a" stroke-width="1.1"/>
<line x1="1176.60" y1="344.4" x2="1176.60" y2="348.40" stroke="#8a8a8a" stroke-width="1.1"/>
<rect x="703.20" y="291.39" width="52" height="53.01" fill="#e01b10" stroke="#000" stroke-width="1.6"/>
<path d="M729.20,288.90 V293.77 M725.30,288.90 H733.10 M725.30,293.77 H733.10" stroke="#000" stroke-width="1.6" fill="none"/>
<rect x="830.50" y="95.65" width="52" height="248.75" fill="#1e0a7e" stroke="#000" stroke-width="1.6"/>
<path d="M856.50,89.32 V101.97 M852.60,89.32 H860.40 M852.60,101.97 H860.40" stroke="#000" stroke-width="1.6" fill="none"/>
<rect x="958.50" y="276.78" width="52" height="67.62" fill="#156a2c" stroke="#000" stroke-width="1.6"/>
<path d="M984.50,274.59 V278.97 M980.60,274.59 H988.40 M980.60,278.97 H988.40" stroke="#000" stroke-width="1.6" fill="none"/>
<rect x="1086.00" y="257.31" width="52" height="87.09" fill="#f86b16" stroke="#000" stroke-width="1.6"/>
<path d="M1112.00,253.66 V260.96 M1108.10,253.66 H1115.90 M1108.10,260.96 H1115.90" stroke="#000" stroke-width="1.6" fill="none"/>
<text x="729.20" y="371.10" text-anchor="middle" font-size="20">PCNA</text>
<text x="729.20" y="395.05" text-anchor="middle" font-size="20">DNA-30</text>
<text x="856.50" y="371.10" text-anchor="middle" font-size="20">PCNA</text>
<text x="856.50" y="395.05" text-anchor="middle" font-size="20">K20A K77A</text>
<text x="856.50" y="419.00" text-anchor="middle" font-size="20">R80A R149A</text>
<text x="856.50" y="442.95" text-anchor="middle" font-size="20">DNA-30</text>
<text x="984.50" y="371.10" text-anchor="middle" font-size="20">PCNA</text>
<text x="984.50" y="395.05" text-anchor="middle" font-size="20">DNA-13</text>
<text x="1112.00" y="371.10" text-anchor="middle" font-size="20">PCNA</text>
<text x="1112.00" y="395.05" text-anchor="middle" font-size="20">K20A K77A</text>
<text x="1112.00" y="419.00" text-anchor="middle" font-size="20">R80A R149A</text>
<text x="1112.00" y="442.95" text-anchor="middle" font-size="20">DNA-13</text>
<text x="710.4" y="72" font-size="19.8">+RFC</text>
<text transform="translate(621.1,187.3) rotate(-90)" text-anchor="middle" font-size="23.6" textLength="292.6" lengthAdjust="spacing">Dissociation constant (nM)</text>
</g>
<g id="panelC">
<text x="1" y="524.2" font-size="24">C</text>
<circle cx="293.95" cy="587" r="42.1" fill="#36a32e"/>
<path d="M292.8,564.1 L298.8,564.1 L298.8,606.6 L292.8,606.6 L292.8,576 L281.9,576 L281.9,571.3 C287.3,571.1 291.2,568.6 292.8,564.1 Z" fill="#fff"/>
<circle cx="609.85" cy="587" r="42.1" fill="#fe0000"/>
<text x="609.35" y="606.6" text-anchor="middle" font-size="58.5" fill="#fff" stroke="#fff" stroke-width="0.8">2</text>
<circle cx="920.2" cy="587" r="42.1" fill="#000"/>
<text x="919.7" y="606.6" text-anchor="middle" font-size="58.5" fill="#fff" stroke="#fff" stroke-width="0.8">3</text>
<use href="#rfc"/>
<use href="#rfc" transform="translate(314.7,0)"/>
<use href="#rfc" transform="translate(629.5,0)"/>
<use href="#rfc" transform="translate(939.1,-82.4)"/>
<g transform="matrix(0.9789,0.2045,-0.1340,0.9910,127.2,861.6)"><path d="M-77.3,-15.6 A77.3,4.3 0 0 1 77.3,-15.6 L77.3,15.6 A77.3,4.3 0 0 1 -77.3,15.6 Z" fill="#ffff00" stroke="#000" stroke-width="1.95" stroke-linejoin="round"/><ellipse cx="0" cy="-14.2" rx="62" ry="1.75" fill="#fff" stroke="#000" stroke-width="1.75"/><path d="M-77.3,-15.6 A77.3,4.3 0 0 0 77.3,-15.6" fill="none" stroke="#000" stroke-width="1.9"/><line x1="-68" y1="-13.56" x2="-68" y2="17.64" stroke="#000" stroke-width="1.8"/><line x1="68" y1="-13.56" x2="68" y2="17.64" stroke="#000" stroke-width="1.8"/></g>
<g transform="matrix(0.9789,0.2045,-0.1340,0.9910,441.8,799.6)"><path d="M-77.3,-15.6 A77.3,4.3 0 0 1 77.3,-15.6 L77.3,15.6 A77.3,4.3 0 0 1 -77.3,15.6 Z" fill="#ffff00" stroke="#000" stroke-width="1.95" stroke-linejoin="round"/><ellipse cx="0" cy="-14.2" rx="62" ry="1.75" fill="#ffff00" stroke="#000" stroke-width="1.75"/><path d="M-77.3,-15.6 A77.3,4.3 0 0 0 77.3,-15.6" fill="none" stroke="#000" stroke-width="1.9"/></g>
<polygon points="426.3,781.4 460.8,787.6 457.5,826 421.5,819" fill="#fff"/>
<line x1="422.6" y1="808.8" x2="457.2" y2="815.4" stroke="#000" stroke-width="1.7"/>
<polygon points="421.3,784.2 426.5,783 422.4,812.2 418.3,812.8" fill="#ffff00" stroke="#000" stroke-width="1.7" stroke-linejoin="round"/>
<polygon points="460.5,789.4 464.3,791.6 460.5,821.6 456.6,819.7" fill="#ffff00" stroke="#000" stroke-width="1.7" stroke-linejoin="round"/>
<g transform="matrix(0.9789,0.2045,-0.1340,0.9910,759.3,799.4)"><path d="M-77.3,-15.6 A77.3,4.3 0 0 1 77.3,-15.6 L77.3,15.6 A77.3,4.3 0 0 1 -77.3,15.6 Z" fill="#ffff00" stroke="#000" stroke-width="1.95" stroke-linejoin="round"/><ellipse cx="0" cy="-14.2" rx="62" ry="1.75" fill="#fff" stroke="#000" stroke-width="1.75"/><path d="M-77.3,-15.6 A77.3,4.3 0 0 0 77.3,-15.6" fill="none" stroke="#000" stroke-width="1.9"/><line x1="-68" y1="-13.56" x2="-68" y2="17.64" stroke="#000" stroke-width="1.8"/><line x1="68" y1="-13.56" x2="68" y2="17.64" stroke="#000" stroke-width="1.8"/></g>
<path d="M765.30,698.50 L765.30,875.60" fill="none" stroke="#000" stroke-width="10.2" stroke-linecap="round" stroke-linejoin="round"/>
<path d="M765.30,698.50 L765.30,875.60" fill="none" stroke="#e87b24" stroke-width="6.2" stroke-linecap="round" stroke-linejoin="round"/>
<path d="M829.60,669.60 L778.60,699.50 L778.60,875.60" fill="none" stroke="#000" stroke-width="10.2" stroke-linecap="round" stroke-linejoin="round"/>
<path d="M829.60,669.60 L778.60,699.50 L778.60,875.60" fill="none" stroke="#22893a" stroke-width="6.2" stroke-linecap="round" stroke-linejoin="round"/>
<g transform="matrix(0.9789,0.2045,-0.1340,0.9910,759.3,799.4)"><path d="M-77.3,-15.6 A77.3,4.3 0 0 0 77.3,-15.6 L77.3,15.6 A77.3,4.3 0 0 1 -77.3,15.6 Z" fill="#ffff00" stroke="#000" stroke-width="1.95" stroke-linejoin="round"/><line x1="-68" y1="-13.56" x2="-68" y2="17.64" stroke="#000" stroke-width="1.8"/><line x1="68" y1="-13.56" x2="68" y2="17.64" stroke="#000" stroke-width="1.8"/></g>
<line x1="760.30" y1="788.99" x2="760.30" y2="818.98" stroke="#000" stroke-width="1.8" stroke-dasharray="3,1.8"/>
<line x1="769.90" y1="790.97" x2="769.90" y2="820.92" stroke="#000" stroke-width="1.8" stroke-dasharray="3,1.8"/>
<line x1="773.50" y1="791.69" x2="773.50" y2="821.63" stroke="#000" stroke-width="1.8" stroke-dasharray="3,1.8"/>
<line x1="783.60" y1="793.66" x2="783.60" y2="823.57" stroke="#000" stroke-width="1.8" stroke-dasharray="3,1.8"/>
<polygon points="760.5,792 732.6,774.1 744.2,764.8" fill="#f80808"/>
<polygon points="783.2,792 799.9,765.3 812,776.4" fill="#f80808"/>
<polygon points="761.6,815.9 733.8,833.3 744.2,842.5" fill="#f80808"/>
<polygon points="782.5,815.2 797.6,842.5 810.3,833.3" fill="#f80808"/>
<g transform="matrix(0.9789,0.2045,-0.1340,0.9910,1067.6999999999998,897.8)"><path d="M-77.3,-15.6 A77.3,4.3 0 0 1 77.3,-15.6 L77.3,15.6 A77.3,4.3 0 0 1 -77.3,15.6 Z" fill="#ffff00" stroke="#000" stroke-width="1.95" stroke-linejoin="round"/><ellipse cx="0" cy="-14.2" rx="62" ry="1.75" fill="#fff" stroke="#000" stroke-width="1.75"/><path d="M-77.3,-15.6 A77.3,4.3 0 0 0 77.3,-15.6" fill="none" stroke="#000" stroke-width="1.9"/><line x1="-68" y1="-13.56" x2="-68" y2="17.64" stroke="#000" stroke-width="1.8"/><line x1="68" y1="-13.56" x2="68" y2="17.64" stroke="#000" stroke-width="1.8"/></g>
<path d="M1073.70,796.90 L1073.70,974.00" fill="none" stroke="#000" stroke-width="10.2" stroke-linecap="round" stroke-linejoin="round"/>
<path d="M1073.70,796.90 L1073.70,974.00" fill="none" stroke="#e87b24" stroke-width="6.2" stroke-linecap="round" stroke-linejoin="round"/>
<path d="M1138.00,768.00 L1087.00,797.90 L1087.00,974.00" fill="none" stroke="#000" stroke-width="10.2" stroke-linecap="round" stroke-linejoin="round"/>
<path d="M1138.00,768.00 L1087.00,797.90 L1087.00,974.00" fill="none" stroke="#22893a" stroke-width="6.2" stroke-linecap="round" stroke-linejoin="round"/>
<g transform="matrix(0.9789,0.2045,-0.1340,0.9910,1067.6999999999998,897.8)"><path d="M-77.3,-15.6 A77.3,4.3 0 0 0 77.3,-15.6 L77.3,15.6 A77.3,4.3 0 0 1 -77.3,15.6 Z" fill="#ffff00" stroke="#000" stroke-width="1.95" stroke-linejoin="round"/><line x1="-68" y1="-13.56" x2="-68" y2="17.64" stroke="#000" stroke-width="1.8"/><line x1="68" y1="-13.56" x2="68" y2="17.64" stroke="#000" stroke-width="1.8"/></g>
<line x1="1068.70" y1="887.39" x2="1068.70" y2="917.38" stroke="#000" stroke-width="1.8" stroke-dasharray="3,1.8"/>
<line x1="1078.30" y1="889.37" x2="1078.30" y2="919.32" stroke="#000" stroke-width="1.8" stroke-dasharray="3,1.8"/>
<line x1="1081.90" y1="890.09" x2="1081.90" y2="920.03" stroke="#000" stroke-width="1.8" stroke-dasharray="3,1.8"/>
<line x1="1092.00" y1="892.06" x2="1092.00" y2="921.97" stroke="#000" stroke-width="1.8" stroke-dasharray="3,1.8"/>
<line x1="248.6" y1="718.7" x2="311.3" y2="718.7" stroke="#000" stroke-width="4.3"/><polygon points="309.3,710.1 340.9,718.7 309.3,727.3000000000001" fill="#000"/>
<line x1="567" y1="718.5" x2="629.9" y2="718.5" stroke="#000" stroke-width="4.3"/><polygon points="627.9,710.2 659.1,718.5 627.9,726.8" fill="#000"/>
<line x1="587.4" y1="693.8" x2="636.5" y2="743.3" stroke="#fc0606" stroke-width="4.7"/>
<line x1="636.3" y1="693.8" x2="587.2" y2="743.3" stroke="#fc0606" stroke-width="4.7"/>
<line x1="880.9" y1="718.6" x2="943.2" y2="718.6" stroke="#000" stroke-width="4.3"/><polygon points="941.2,710.1 972.2,718.6 941.2,727.1" fill="#000"/>
<path d="M882,720.3 C903,720.5 920.3,738 920.3,768" fill="none" stroke="#000" stroke-width="4.3"/>
<polygon points="912.2,766.6 920.3,797.5 928.4,766.6" fill="#000"/>
<text x="247.3" y="696.7" font-size="32" font-weight="bold">+ ATP</text>
<text x="562.6" y="682.5" font-size="32.5" font-weight="bold">+ DNA</text>
<text x="886.3" y="834.6" font-size="32" font-weight="bold">ADP</text>
<text x="52.6" y="937.6" font-size="23.7">PCNA K20A/K77A/</text>
<text x="124.2" y="966.3" font-size="23.7">R80A/R149A</text>
<text x="409.9" y="913.70" font-size="24" textLength="240.3" lengthAdjust="spacing">Compatibility between</text>
<text x="409.9" y="942.15" font-size="24" textLength="263.3" lengthAdjust="spacing">DNA and surface of hole</text>
<text x="409.9" y="970.60" font-size="24" textLength="286.5" lengthAdjust="spacing">inside PCNA necessary for</text>
<text x="409.9" y="999.05" font-size="24" textLength="208.6" lengthAdjust="spacing">proper formation of</text>
<text x="409.9" y="1027.50" font-size="24" textLength="281.0" lengthAdjust="spacing">RFC-PCNA-DNA complex</text>
<line x1="733.2" y1="845.6" x2="666.6" y2="898.6" stroke="#000" stroke-width="2.2"/>
</g>
</svg>
</body></html>
